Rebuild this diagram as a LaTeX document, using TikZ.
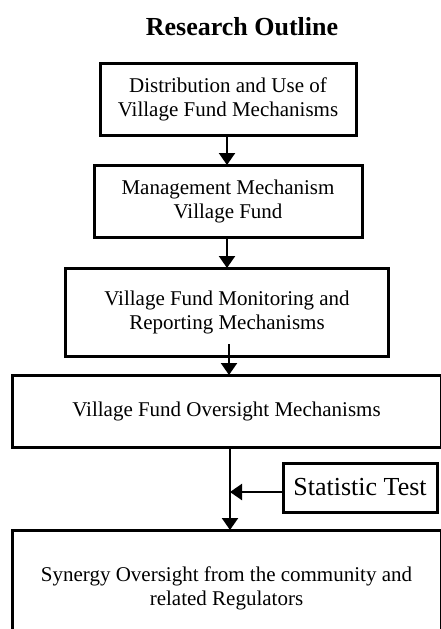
\documentclass[tikz,border=0pt]{standalone}
\usepackage{fontspec}
\setmainfont{Liberation Serif}
\usetikzlibrary{arrows.meta,calc}
\begin{document}
\begin{tikzpicture}[x=1pt,y=-1pt,
  box/.style={draw,line width=3pt,outer sep=0pt,inner sep=0pt,align=center,
    font=\fontsize{21}{24}\selectfont},
  arr/.style={line width=2.2pt,-{Triangle[width=16pt,length=12pt]}}]
\useasboundingbox (0,0) rectangle (440,629);
\node[font=\fontsize{26}{30}\selectfont\bfseries,anchor=base] (title) at (242,35) {Research Outline};
\node[box,minimum width=256,minimum height=72] (b1) at (228,99)
  {Distribution and Use of\\Village Fund Mechanisms};
\node[box,minimum width=268,minimum height=72] (b2) at (228,201)
  {Management Mechanism\\Village Fund};
\node[box,minimum width=323,minimum height=88] (b3) at (227,312)
  {Village Fund Monitoring and\\Reporting Mechanisms};
\node[box,minimum width=429,minimum height=72] (b4) at (226.5,411)
  {Village Fund Oversight Mechanisms};
\node[box,minimum width=154,minimum height=49,font=\fontsize{26}{30}\selectfont] (st) at (360,487.5)
  {Statistic Test};
\node[box,minimum width=429,minimum height=116] (b5) at (226.5,588)
  {Synergy Oversight from the community and\\related Regulators};
\coordinate (s3) at (229,344);
\coordinate (j) at (230,492);
\draw[arr] (b1.south -| 227,0) -- (b2.north -| 227,0);
\draw[arr] (b2.south -| 227,0) -- (b3.north -| 227,0);
\draw[arr] (s3) -- (b4.north -| s3);
\draw[arr] (b4.south -| j) -- (b5.north -| j);
\draw[arr] (st.west |- j) -- (j);
\end{tikzpicture}
\end{document}
